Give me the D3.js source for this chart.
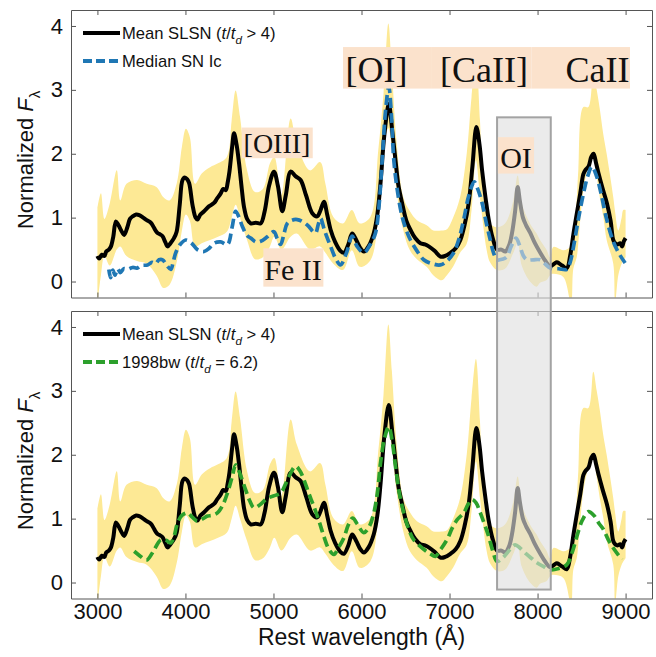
<!DOCTYPE html>
<html>
<head>
<meta charset="utf-8">
<script src="https://cdn.jsdelivr.net/npm/d3@7/dist/d3.min.js"></script>
<style>
  body { margin: 0; background: #fff; }
  svg { display: block; }
</style>
</head>
<body>
<svg id="chart" width="656" height="657"></svg>
<script>
// ---- data ----
const xTicks = [3000, 4000, 5000, 6000, 7000, 8000, 9000];
const yTicks = [0, 1, 2, 3, 4];

// mean SLSN spectrum (t/td > 4)
const meanWave = [3000, 3020, 3050, 3080, 3100, 3130, 3154, 3180, 3210, 3240, 3270, 3304, 3340, 3370, 3400, 3440, 3475, 3520, 3560, 3607, 3640, 3660, 3683, 3710, 3740, 3770, 3797, 3830, 3870, 3900, 3935, 3967, 3993, 4020, 4042, 4080, 4115, 4136, 4170, 4212, 4270, 4325, 4360, 4401, 4430, 4458, 4480, 4500, 4530, 4552, 4580, 4609, 4640, 4665, 4700, 4741, 4800, 4855, 4900, 4950, 5006, 5050, 5100, 5140, 5195, 5250, 5308, 5370, 5441, 5497, 5530, 5573, 5610, 5649, 5700, 5760, 5800, 5850, 5894, 5940, 5988, 6026, 6080, 6140, 6180, 6216, 6260, 6310, 6350, 6386, 6420, 6461, 6510, 6556, 6610, 6669, 6720, 6764, 6830, 6896, 6950, 7010, 7070, 7123, 7170, 7218, 7260, 7305, 7340, 7370, 7410, 7445, 7490, 7540, 7590, 7634, 7680, 7710, 7745, 7774, 7800, 7834, 7870, 7917, 7970, 8031, 8090, 8144, 8190, 8220, 8280, 8333, 8370, 8409, 8450, 8485, 8520, 8541, 8579, 8610, 8636, 8665, 8693, 8740, 8787, 8830, 8860, 8882, 8910, 8938, 8960, 8980, 9000];
const meanFlux = [0.40, 0.36, 0.42, 0.40, 0.47, 0.50, 0.55, 0.70, 0.94, 0.88, 0.80, 0.73, 0.85, 0.98, 1.02, 1.05, 1.04, 1.00, 0.96, 0.92, 0.85, 0.80, 0.76, 0.74, 0.71, 0.62, 0.55, 0.60, 0.68, 0.78, 1.20, 1.59, 1.63, 1.60, 1.54, 1.20, 1.00, 0.97, 1.05, 1.10, 1.18, 1.23, 1.30, 1.38, 1.45, 1.43, 1.55, 1.72, 2.10, 2.32, 2.15, 1.85, 1.45, 1.17, 0.98, 0.91, 0.92, 0.91, 1.10, 1.50, 1.72, 1.50, 1.10, 1.35, 1.72, 1.65, 1.59, 1.35, 1.07, 1.02, 1.10, 1.25, 1.05, 0.81, 0.62, 0.48, 0.45, 0.58, 0.75, 0.65, 0.52, 0.47, 0.55, 0.76, 1.05, 1.54, 2.30, 2.78, 2.35, 1.90, 1.50, 1.23, 0.95, 0.81, 0.68, 0.60, 0.58, 0.55, 0.48, 0.39, 0.40, 0.45, 0.52, 0.65, 0.88, 1.23, 1.80, 2.42, 2.15, 1.74, 1.30, 0.97, 0.68, 0.50, 0.50, 0.47, 0.58, 0.76, 1.10, 1.48, 1.25, 1.00, 0.88, 0.76, 0.60, 0.45, 0.32, 0.24, 0.28, 0.30, 0.25, 0.21, 0.40, 0.76, 1.10, 1.38, 1.68, 1.74, 1.80, 1.95, 2.00, 1.85, 1.69, 1.45, 1.23, 0.95, 0.65, 0.60, 0.58, 0.60, 0.55, 0.63, 0.68];

// spread of the SLSN sample (yellow band)
const bandWave = [3000, 3040, 3080, 3140, 3220, 3260, 3330, 3450, 3560, 3670, 3750, 3820, 3900, 3960, 4005, 4050, 4110, 4185, 4280, 4370, 4470, 4525, 4570, 4620, 4700, 4790, 4880, 4960, 5010, 5090, 5195, 5265, 5415, 5530, 5590, 5680, 5790, 5890, 5980, 6100, 6190, 6250, 6305, 6345, 6400, 6475, 6550, 6630, 6740, 6815, 6910, 6970, 7040, 7120, 7195, 7250, 7300, 7346, 7385, 7422, 7460, 7536, 7630, 7725, 7774, 7820, 7914, 7990, 8028, 8100, 8142, 8180, 8293, 8380, 8406, 8445, 8463, 8520, 8577, 8633, 8672, 8709, 8747, 8785, 8860, 8880, 8917, 8955, 8974, 9000];
const bandUpper = [1.15, 1.38, 0.98, 1.22, 1.74, 1.27, 1.53, 1.59, 1.53, 1.48, 1.32, 1.27, 1.53, 2.11, 2.39, 2.26, 1.53, 1.69, 1.79, 1.85, 1.95, 2.52, 2.99, 2.58, 1.74, 1.40, 1.45, 1.85, 1.95, 1.35, 2.55, 2.16, 1.74, 1.87, 1.53, 1.01, 0.91, 1.12, 0.91, 1.01, 2.05, 2.94, 4.04, 3.31, 2.16, 1.32, 1.10, 0.96, 0.88, 0.80, 0.80, 0.82, 1.00, 1.32, 2.00, 2.89, 3.50, 2.52, 1.32, 1.05, 0.91, 0.85, 0.91, 1.27, 1.66, 1.22, 0.91, 0.75, 0.65, 0.50, 0.38, 0.54, 0.49, 0.55, 0.65, 1.30, 1.74, 2.73, 2.73, 3.30, 3.00, 2.68, 2.30, 2.00, 1.32, 1.10, 0.80, 1.00, 1.12, 1.12];
const bandLower = [-0.35, 0.10, 0.40, 0.25, 0.50, 0.55, 0.40, 0.32, 0.28, 0.10, -0.10, -0.05, 0.30, 0.80, 1.05, 0.95, 0.55, 0.60, 0.65, 0.70, 0.78, 1.00, 1.20, 1.00, 0.65, 0.35, 0.38, 0.55, 0.70, 0.50, 0.70, 0.75, 0.50, 0.55, 0.45, 0.28, 0.18, 0.49, 0.23, 0.33, 1.01, 2.10, 2.40, 2.10, 1.40, 0.80, 0.49, 0.35, 0.23, 0.10, 0.02, 0.10, 0.23, 0.45, 0.59, 1.12, 1.90, 1.32, 0.85, 0.49, 0.30, 0.18, 0.20, 0.45, 0.60, 0.25, 0.00, -0.08, -0.02, 0.02, 0.10, 0.12, 0.07, -0.35, 0.20, 0.38, 0.60, 1.43, 1.80, 2.00, 1.64, 1.30, 1.01, 0.65, 0.28, -0.35, 0.10, 0.28, 0.33, 0.38];

// median SN Ic
const icWave = [3130, 3150, 3175, 3200, 3230, 3260, 3300, 3343, 3400, 3450, 3500, 3570, 3620, 3660, 3700, 3740, 3790, 3834, 3860, 3890, 3940, 4004, 4070, 4136, 4212, 4270, 4325, 4400, 4477, 4530, 4571, 4610, 4647, 4700, 4741, 4800, 4855, 4930, 5006, 5040, 5081, 5120, 5157, 5210, 5270, 5340, 5403, 5450, 5479, 5510, 5535, 5580, 5649, 5710, 5762, 5830, 5894, 5950, 6026, 6100, 6159, 6200, 6235, 6275, 6310, 6340, 6367, 6410, 6461, 6510, 6556, 6630, 6707, 6800, 6896, 6970, 7047, 7110, 7161, 7220, 7281, 7320, 7370, 7420, 7463, 7500, 7540, 7600, 7653, 7700, 7755, 7800, 7840, 7880, 7950, 8031, 8090, 8144, 8240, 8333, 8370, 8409, 8460, 8522, 8570, 8617, 8670, 8721, 8780, 8853, 8920, 8995];
const icFlux = [0.19, 0.06, 0.18, 0.10, 0.20, 0.14, 0.20, 0.19, 0.22, 0.21, 0.25, 0.26, 0.30, 0.28, 0.34, 0.34, 0.25, 0.19, 0.30, 0.45, 0.58, 0.65, 0.60, 0.50, 0.47, 0.52, 0.60, 0.62, 0.58, 0.85, 1.10, 1.00, 0.86, 0.72, 0.68, 0.62, 0.63, 0.70, 0.78, 0.68, 0.58, 0.75, 0.91, 0.96, 0.97, 0.93, 0.86, 0.78, 0.76, 0.90, 0.99, 0.80, 0.55, 0.35, 0.26, 0.45, 0.71, 0.55, 0.45, 0.58, 0.76, 1.20, 1.90, 2.70, 3.05, 2.60, 1.90, 1.40, 1.02, 0.80, 0.65, 0.48, 0.34, 0.28, 0.26, 0.32, 0.45, 0.68, 0.97, 1.35, 1.56, 1.45, 1.23, 0.90, 0.65, 0.45, 0.34, 0.35, 0.39, 0.55, 0.68, 0.55, 0.40, 0.34, 0.34, 0.34, 0.27, 0.21, 0.20, 0.19, 0.30, 0.55, 0.95, 1.38, 1.65, 1.80, 1.65, 1.38, 1.00, 0.65, 0.45, 0.29];

// SN 1998bw at t/td = 6.2
const bwWave = [3418, 3480, 3540, 3570, 3640, 3721, 3780, 3834, 3870, 3910, 3960, 4023, 4080, 4136, 4200, 4250, 4300, 4363, 4420, 4477, 4530, 4571, 4620, 4684, 4730, 4779, 4850, 4930, 5010, 5081, 5130, 5176, 5251, 5300, 5346, 5400, 5459, 5520, 5573, 5630, 5686, 5740, 5800, 5850, 5900, 5950, 6026, 6090, 6140, 6180, 6216, 6260, 6310, 6350, 6386, 6430, 6480, 6540, 6593, 6707, 6780, 6839, 6900, 6971, 7030, 7085, 7161, 7210, 7256, 7300, 7350, 7400, 7445, 7490, 7540, 7600, 7653, 7700, 7747, 7800, 7861, 7930, 7993, 8070, 8144, 8240, 8333, 8400, 8446, 8510, 8579, 8640, 8700, 8749, 8800, 8870, 8957];
const bwFlux = [0.49, 0.42, 0.36, 0.36, 0.50, 0.67, 0.66, 0.62, 0.72, 0.93, 1.05, 1.09, 1.02, 0.96, 1.00, 1.04, 1.05, 1.09, 1.20, 1.40, 1.65, 1.84, 1.70, 1.45, 1.28, 1.17, 1.22, 1.32, 1.36, 1.40, 1.52, 1.66, 1.82, 1.75, 1.61, 1.40, 1.19, 0.95, 0.72, 0.52, 0.44, 0.55, 0.70, 0.90, 1.01, 0.92, 0.78, 0.88, 1.09, 1.40, 1.87, 2.25, 2.44, 2.20, 1.82, 1.40, 1.09, 0.82, 0.67, 0.52, 0.45, 0.41, 0.52, 0.67, 0.85, 0.98, 1.09, 1.22, 1.30, 1.25, 1.09, 0.90, 0.72, 0.50, 0.33, 0.38, 0.46, 0.54, 0.59, 0.54, 0.46, 0.38, 0.31, 0.25, 0.20, 0.22, 0.28, 0.50, 0.72, 0.98, 1.11, 1.05, 0.92, 0.83, 0.68, 0.52, 0.36];

// highlighted OI region (wavelength range, top value in upper panel, bottom value in lower panel)
const oiRegion = [7540, 8150];
const oiRegionTop = 2.57;
const oiRegionBottom = -0.11;

// line labels: text, centre wavelength, baseline value, box [w0, w1, v0, v1]
const lineLabels = [
  { text: '[OI]',   w: 6170, v: 3.12, box: [5790, 6800, 3.02, 3.67], size: 36 },
  { text: '[CaII]', w: 7392, v: 3.12, box: [6800, 7930, 3.02, 3.67], size: 36 },
  { text: 'CaII',   w: 8681, v: 3.12, box: [7930, 9050, 3.02, 3.67], size: 36 },
  { text: '[OIII]', w: 5040, v: 2.01, box: [4639, 5446, 1.93, 2.41], size: 28 },
  { text: 'Fe II',  w: 5222, v: 0.03, box: [4885, 5567, -0.08, 0.52], size: 30 },
  { text: 'OI',     w: 7755, v: 1.77, box: [7550, 7960, 1.69, 2.26], size: 30 }
];

const colors = { mean: '#000000', ic: '#1f77b4', bw: '#2ca02c', band: '#fde995', label: '#fbe2cc' };

// ---- layout ----
const svg = d3.select('#chart');
const sansFont = '"Liberation Sans", Arial, Helvetica, sans-serif';
const serifFont = '"Liberation Serif", "Times New Roman", serif';

const x = d3.scaleLinear().domain([2700, 9300]).range([71, 652]);
const panels = [
  { top: 10, bottom: 297.5, compWave: icWave, compFlux: icFlux, compColor: colors.ic,
    legend: [[{ t: 'Mean SLSN (' }, { t: 't', i: 1 }, { t: '/' }, { t: 't', i: 1 }, { t: 'd', i: 1, sub: 1 }, { t: ' > 4)' }],
             [{ t: 'Median SN Ic' }]] },
  { top: 311, bottom: 598.5, compWave: bwWave, compFlux: bwFlux, compColor: colors.bw,
    legend: [[{ t: 'Mean SLSN (' }, { t: 't', i: 1 }, { t: '/' }, { t: 't', i: 1 }, { t: 'd', i: 1, sub: 1 }, { t: ' > 4)' }],
             [{ t: '1998bw (' }, { t: 't', i: 1 }, { t: '/' }, { t: 't', i: 1 }, { t: 'd', i: 1, sub: 1 }, { t: ' = 6.2)' }]] }
];

const meanData = d3.zip(meanWave, meanFlux);
const bandData = d3.zip(bandWave, bandLower, bandUpper);

function addRich(textSel, parts, size) {
  parts.forEach(function(p) {
    const ts = textSel.append('tspan').text(p.t);
    if (p.i) ts.attr('font-style', 'italic');
    if (p.sub) {
      ts.attr('font-size', size * 0.7).attr('dy', size * 0.3);
    } else if (textSel.attr('data-sub') === '1') {
      ts.attr('dy', -size * 0.3);
    }
    textSel.attr('data-sub', p.sub ? '1' : '0');
  });
}

panels.forEach(function(p, i) {
  const y = d3.scaleLinear().domain([-0.25, 4.25]).range([p.bottom, p.top]);
  p.y = y;
  const g = svg.append('g');

  svg.append('clipPath').attr('id', 'clip' + i)
    .append('rect').attr('x', x.range()[0]).attr('y', p.top)
    .attr('width', x.range()[1] - x.range()[0]).attr('height', p.bottom - p.top);

  const plot = g.append('g').attr('clip-path', 'url(#clip' + i + ')');

  // yellow spread band
  plot.append('path')
    .datum(bandData)
    .attr('fill', colors.band)
    .attr('d', d3.area()
      .x(function(d) { return x(d[0]); })
      .y0(function(d) { return y(d[1]); })
      .y1(function(d) { return y(d[2]); })
      .curve(d3.curveCatmullRom.alpha(0.5)));

  const line = d3.line()
    .x(function(d) { return x(d[0]); })
    .y(function(d) { return y(d[1]); })
    .curve(d3.curveCatmullRom.alpha(0.5));

  plot.append('path')
    .datum(meanData)
    .attr('fill', 'none')
    .attr('stroke', colors.mean)
    .attr('stroke-width', 4)
    .attr('stroke-linejoin', 'round')
    .attr('d', line);

  plot.append('path')
    .datum(d3.zip(p.compWave, p.compFlux))
    .attr('fill', 'none')
    .attr('stroke', p.compColor)
    .attr('stroke-width', 3.7)
    .attr('stroke-dasharray', '10,5')
    .attr('d', line);

  // axes, ticks inward on all four sides
  const axColor = '#555';
  const bottomAxis = g.append('g').attr('transform', 'translate(0,' + p.bottom + ')')
    .call(d3.axisBottom(x).tickValues(xTicks).tickSizeInner(-5).tickSizeOuter(0).tickPadding(5)
      .tickFormat(i === 1 ? d3.format('d') : function() { return ''; }));
  const topAxis = g.append('g').attr('transform', 'translate(0,' + p.top + ')')
    .call(d3.axisTop(x).tickValues(xTicks).tickSizeInner(-5).tickSizeOuter(0).tickFormat(function() { return ''; }));
  const leftAxis = g.append('g').attr('transform', 'translate(' + x.range()[0] + ',0)')
    .call(d3.axisLeft(y).tickValues(yTicks).tickSizeInner(-5).tickSizeOuter(0).tickPadding(8).tickFormat(d3.format('d')));
  const rightAxis = g.append('g').attr('transform', 'translate(' + x.range()[1] + ',0)')
    .call(d3.axisRight(y).tickValues(yTicks).tickSizeInner(-5).tickSizeOuter(0).tickFormat(function() { return ''; }));

  [bottomAxis, topAxis, leftAxis, rightAxis].forEach(function(a) {
    a.selectAll('.domain, .tick line').attr('stroke', axColor).attr('stroke-width', 1);
    a.selectAll('text').attr('font-family', sansFont).attr('font-size', 22).attr('fill', '#111');
  });

  // y label
  const yl = g.append('text')
    .attr('transform', 'translate(33,' + ((p.top + p.bottom) / 2 + 6) + ') rotate(-90)')
    .attr('text-anchor', 'middle')
    .attr('font-family', sansFont)
    .attr('font-size', 22)
    .attr('fill', '#111');
  addRich(yl, [{ t: 'Normalized ' }, { t: 'F', i: 1 }, { t: 'λ', sub: 1 }], 22);

  // legend
  const legendItems = [
    { color: colors.mean, dash: null, parts: p.legend[0] },
    { color: p.compColor, dash: '9,4', parts: p.legend[1] }
  ];
  legendItems.forEach(function(it, k) {
    const ly = p.top + 23 + k * 28;
    g.append('line')
      .attr('x1', 83).attr('x2', 120).attr('y1', ly).attr('y2', ly)
      .attr('stroke', it.color).attr('stroke-width', 3.8)
      .attr('stroke-dasharray', it.dash);
    const t = g.append('text')
      .attr('x', 122).attr('y', ly + 6)
      .attr('font-family', sansFont)
      .attr('font-size', 16.6)
      .attr('fill', '#111');
    addRich(t, it.parts, 16.6);
  });
});

// x label
svg.append('text')
  .attr('x', (x.range()[0] + x.range()[1]) / 2)
  .attr('y', 645)
  .attr('text-anchor', 'middle')
  .attr('font-family', sansFont)
  .attr('font-size', 23)
  .attr('fill', '#111')
  .text('Rest wavelength (Å)');

// line labels in the upper panel
const yTop = panels[0].y;
function drawLabel(l) {
  svg.append('rect')
    .attr('x', x(l.box[0])).attr('width', x(l.box[1]) - x(l.box[0]))
    .attr('y', yTop(l.box[3])).attr('height', yTop(l.box[2]) - yTop(l.box[3]))
    .attr('fill', colors.label);
  svg.append('text')
    .attr('x', x(l.w)).attr('y', yTop(l.v))
    .attr('text-anchor', 'middle')
    .attr('font-family', serifFont)
    .attr('font-size', l.size)
    .attr('fill', '#111')
    .text(l.text);
}
lineLabels.filter(function(l) { return l.text !== 'OI'; }).forEach(drawLabel);

// shaded OI region spanning both panels
const yBot = panels[1].y;
svg.append('rect')
  .attr('x', x(oiRegion[0]))
  .attr('width', x(oiRegion[1]) - x(oiRegion[0]))
  .attr('y', yTop(oiRegionTop))
  .attr('height', yBot(oiRegionBottom) - yTop(oiRegionTop))
  .attr('fill', '#dedede')
  .attr('fill-opacity', 0.62)
  .attr('stroke', '#a3a3a3')
  .attr('stroke-width', 2);

lineLabels.filter(function(l) { return l.text === 'OI'; }).forEach(drawLabel);
</script>
</body>
</html>
